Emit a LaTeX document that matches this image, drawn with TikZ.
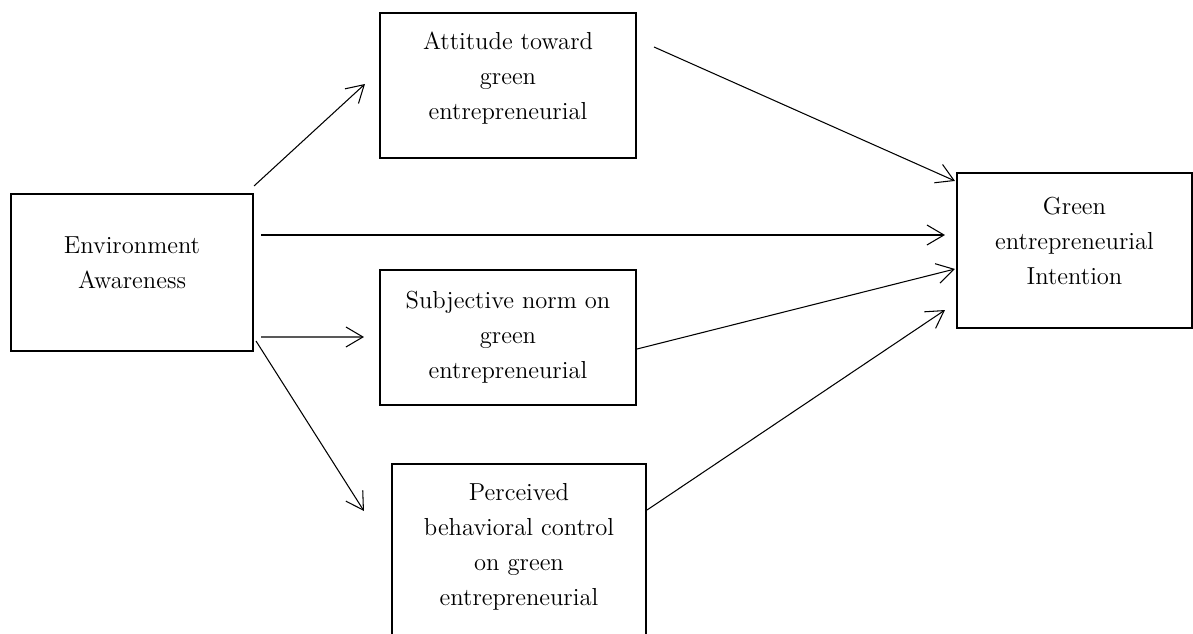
\documentclass[tikz,border=0pt]{standalone}
\usetikzlibrary{arrows.meta,positioning}

\begin{document}
\begin{tikzpicture}[
    x=0.02cm, y=-0.02cm,
    box/.style={rectangle, draw, line width=1.2pt, align=center, inner sep=0pt,
        font=\fontsize{14}{19.9}\selectfont},
    arrow/.style={-{Straight Barb[length=0.34cm,width=0.4cm]}, line width=0.6pt}
]
\useasboundingbox (0,0) rectangle (1193,634);

% Boxes
\node[box, minimum width=4.84cm, minimum height=3.14cm, text depth=11.4pt] (env) at (132,272.5) {Environment\\Awareness};
\node[box, minimum width=5.12cm, minimum height=2.9cm, text depth=10.7pt] (att) at (508,85.5) {Attitude toward\\green\\entrepreneurial};
\node[box, minimum width=5.12cm, minimum height=2.7cm] (subj) at (508,337.5) {Subjective norm on\\green\\entrepreneurial};
\node[box, minimum width=5.08cm, inner ysep=0.38cm, text depth=12pt, anchor=north] (perc) at (519,463) {Perceived\\behavioral control\\on green\\entrepreneurial};
\node[box, minimum width=4.7cm, minimum height=3.1cm, text depth=11.4pt] (gei) at (1074.5,250.5) {Green\\entrepreneurial\\Intention};

% Arrows
\draw[arrow] ([shift={(0,-7)}]env.north east) -- ([shift={(-14,-1.5)}]att.west);
\draw[arrow] ([shift={(7,-37.5)}]env.east) -- ([shift={(-11,-15.5)}]gei.west);
\draw[arrow] ([shift={(7,64.5)}]env.east) -- ([shift={(-15,-0.5)}]subj.west);
\draw[arrow] ([shift={(2,-11)}]env.south east) -- ([shift={(-27,48)}]perc.north west);
\draw[arrow] ([shift={(17,-38.5)}]att.east) -- ([shift={(-1,9)}]gei.north west);
\draw[arrow] ([shift={(0,11.5)}]subj.east) -- ([shift={(-1,18.5)}]gei.west);
\draw[arrow] ([shift={(0,47)}]perc.north east) -- ([shift={(-11,-19)}]gei.south west);

\end{tikzpicture}
\end{document}
